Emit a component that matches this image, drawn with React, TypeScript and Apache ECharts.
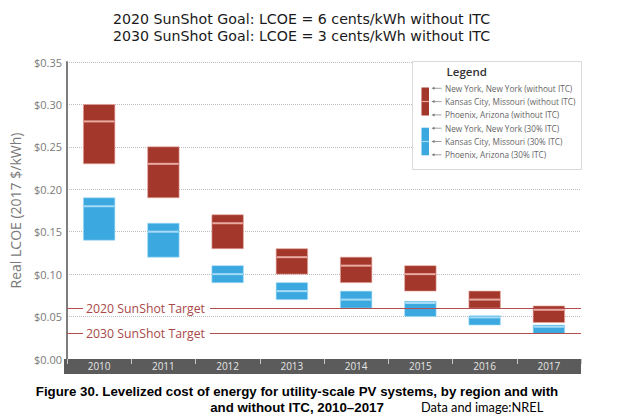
import React, { useEffect, useRef } from "react";
import * as echarts from "echarts";

const categories = ["2010", "2011", "2012", "2013", "2014", "2015", "2016", "2017"];
// Without ITC (red): New York (high), Kansas City (mid), Phoenix (low)
const noItcHigh = [0.30, 0.25, 0.17, 0.13, 0.12, 0.11, 0.08, 0.0625];
const noItcMid = [0.28, 0.23, 0.16, 0.12, 0.11, 0.10, 0.07, 0.058];
const noItcLow = [0.23, 0.19, 0.13, 0.10, 0.09, 0.08, 0.06, 0.043];
// 30% ITC (blue)
const itcHigh = [0.19, 0.16, 0.11, 0.09, 0.08, 0.068, 0.051, 0.040];
const itcMid = [0.18, 0.15, 0.10, 0.08, 0.07, 0.066, 0.049, 0.038];
const itcLow = [0.14, 0.12, 0.09, 0.07, 0.06, 0.05, 0.04, 0.03];

const targetValues = [0.06, 0.03];
const targetLabels = ["2020 SunShot Target", "2030 SunShot Target"];
const yTickLabels = ["$0.00", "$0.05", "$0.10", "$0.15", "$0.20", "$0.25", "$0.30", "$0.35"];
const legendLabels = [
  "New York, New York (without ITC)",
  "Kansas City, Missouri (without ITC)",
  "Phoenix, Arizona (without ITC)",
  "New York, New York (30% ITC)",
  "Kansas City, Missouri (30% ITC)",
  "Phoenix, Arizona (30% ITC)",
];
const titleLines = [
  "2020 SunShot Goal: LCOE = 6 cents/kWh without ITC",
  "2030 SunShot Goal: LCOE = 3 cents/kWh without ITC",
];
const captionLines = [
  "Figure 30. Levelized cost of energy for utility-scale PV systems, by region and with",
  "and without ITC, 2010\u20132017",
];
const sourceText = "Data and image:NREL";

const RED = "#a3372b";
const RED_LIGHT = "#e9aaa1";
const BLUE = "#3ba8e0";
const BLUE_LIGHT = "#a6dbf5";
const FONT = "'Open Sans', sans-serif";

function makeRenderItem(fill: string, light: string) {
  return (params: any, api: any) => {
    const idx = api.value(0);
    const lo = api.value(1);
    const mid = api.value(2);
    const hi = api.value(3);
    const top = api.coord([idx, hi]);
    const bot = api.coord([idx, lo]);
    const m = api.coord([idx, mid]);
    const w = api.size([1, 0])[0] * 0.49;
    const x0 = top[0] - w / 2;
    return {
      type: "group",
      children: [
        {
          type: "rect",
          shape: { x: x0, y: top[1], width: w, height: bot[1] - top[1] },
          style: { fill, stroke: light, lineWidth: 0.6 },
        },
        {
          type: "line",
          shape: { x1: x0 + 0.5, y1: m[1], x2: x0 + w - 0.5, y2: m[1] },
          style: { stroke: light, lineWidth: 2 },
        },
      ],
    };
  };
}

export default function App() {
  const ref = useRef<HTMLDivElement>(null);
  useEffect(() => {
    if (!ref.current) return;
    const chart = echarts.init(ref.current, null, { renderer: "svg" });

    const redData = categories.map((_, i) => [i, noItcLow[i], noItcMid[i], noItcHigh[i]]);
    const blueData = categories.map((_, i) => [i, itcLow[i], itcMid[i], itcHigh[i]]);

    const legendX = 412.5;
    const legendY = 61.5;
    const rowY0 = 88.3;
    const rowStep = 13.3;
    const legendGraphics: any[] = [
      {
        type: "rect",
        z: 100,
        shape: { x: legendX, y: legendY, width: 169, height: 108 },
        style: { fill: "#fff", stroke: "#d9d9d9", lineWidth: 1 },
      },
      {
        type: "text",
        z: 101,
        x: 446.5,
        y: 71.5,
        style: {
          text: "Legend",
          fill: "#333",
          font: `600 11.5px ${FONT}`,
          verticalAlign: "middle",
        },
      },
      {
        type: "rect",
        z: 101,
        shape: { x: 421.5, y: 87.5, width: 7.5, height: 28 },
        style: { fill: RED },
      },
      {
        type: "line",
        z: 102,
        shape: { x1: 421.5, y1: 101.5, x2: 429, y2: 101.5 },
        style: { stroke: RED_LIGHT, lineWidth: 1.2 },
      },
      {
        type: "rect",
        z: 101,
        shape: { x: 421.5, y: 127.7, width: 7.5, height: 27.6 },
        style: { fill: BLUE },
      },
      {
        type: "line",
        z: 102,
        shape: { x1: 421.5, y1: 141.5, x2: 429, y2: 141.5 },
        style: { stroke: BLUE_LIGHT, lineWidth: 1.2 },
      },
    ];
    legendLabels.forEach((lab, i) => {
      const y = rowY0 + i * rowStep;
      legendGraphics.push(
        {
          type: "line",
          z: 101,
          shape: { x1: 434, y1: y, x2: 441.5, y2: y },
          style: { stroke: "#888", lineWidth: 0.8 },
        },
        {
          type: "polygon",
          z: 101,
          shape: { points: [[431.5, y], [434.5, y - 1.5], [434.5, y + 1.5]] },
          style: { fill: "#777" },
        },
        {
          type: "text",
          z: 101,
          x: 445,
          y,
          style: {
            text: lab,
            fill: "#666",
            font: `8.2px ${FONT}`,
            verticalAlign: "middle",
          },
        }
      );
    });

    const titleGraphics = titleLines.map((t, i) => ({
      type: "text",
      z: 100,
      x: 113,
      y: 19 + i * 17,
      style: {
        text: t,
        fill: "#1a1a1a",
        font: "14.2px 'DejaVu Sans', sans-serif",
        textAlign: "left",
        verticalAlign: "middle",
      },
    }));

    const option: any = {
      animation: false,
      backgroundColor: "#fff",
      textStyle: { fontFamily: FONT },
      grid: { left: 64, right: 56, top: 62, bottom: 61, containLabel: false },
      xAxis: {
        type: "category",
        data: categories,
        boundaryGap: true,
        z: 200,
        axisLine: { show: false },
        axisTick: { show: true, length: 5, inside: false, lineStyle: { color: "#c8c8c8", width: 1 } },
        axisLabel: { color: "#e6e6e6", fontSize: 10, fontFamily: FONT, margin: 2 },
        splitLine: { show: false },
      },
      yAxis: {
        type: "value",
        min: 0,
        max: 0.35,
        interval: 0.05,
        name: "Real LCOE (2017 $/kWh)",
        nameLocation: "middle",
        nameRotate: 90,
        nameGap: 45,
        nameTextStyle: { color: "#7a7a7a", fontSize: 14, fontFamily: FONT },
        axisLine: { show: true, lineStyle: { color: "#7d7d7d", width: 2 } },
        axisTick: { show: false },
        axisLabel: {
          color: "#7a7a7a",
          fontSize: 11,
          fontFamily: FONT,
          margin: 5,
          formatter: (v: number) => yTickLabels[Math.round(v / 0.05)] ?? "",
        },
        splitLine: { show: true, lineStyle: { color: "#bdbdbd", type: "dotted", width: 1 } },
      },
      series: [
        {
          type: "custom",
          name: "without ITC",
          renderItem: makeRenderItem(RED, RED_LIGHT),
          encode: { x: 0, y: [1, 2, 3] },
          data: redData,
          z: 3,
          markLine: {
            silent: true,
            symbol: "none",
            lineStyle: { color: "#b24e4e", width: 1, type: "solid" },
            data: targetValues.map((v, i) => ({
              yAxis: v,
              label: {
                show: true,
                formatter: targetLabels[i],
                position: "insideStart",
                distance: [16, 0],
                color: "#a94848",
                fontSize: 12.3,
                fontFamily: FONT,
                backgroundColor: "#fff",
                padding: [1, 5, 1, 3],
              },
            })),
          },
        },
        {
          type: "custom",
          name: "30% ITC",
          renderItem: makeRenderItem(BLUE, BLUE_LIGHT),
          encode: { x: 0, y: [1, 2, 3] },
          data: blueData,
          z: 3,
        },
      ],
      graphic: [
        {
          type: "rect",
          z: 100,
          shape: { x: 64, y: 359, width: 517, height: 15 },
          style: { fill: "#5b5b5b" },
        },
        ...titleGraphics,
        ...legendGraphics,
        {
          type: "text",
          z: 100,
          x: 297,
          y: 391,
          style: {
            text: captionLines[0],
            fill: "#000",
            font: "bold 13.3px 'Liberation Sans', Arial, sans-serif",
            textAlign: "center",
            verticalAlign: "middle",
          },
        },
        {
          type: "text",
          z: 100,
          x: 297,
          y: 407.5,
          style: {
            text: captionLines[1],
            fill: "#000",
            font: "bold 13.3px 'Liberation Sans', Arial, sans-serif",
            textAlign: "center",
            verticalAlign: "middle",
          },
        },
        {
          type: "text",
          z: 100,
          x: 421,
          y: 407,
          style: {
            text: sourceText,
            fill: "#000",
            font: "12.8px Lato, sans-serif",
            textAlign: "left",
            verticalAlign: "middle",
          },
        },
      ],
    };
    chart.setOption(option);
    return () => chart.dispose();
  }, []);

  return (
    <div
      ref={ref}
      style={{ position: "fixed", left: 0, top: 0, width: 637, height: 420, background: "#fff" }}
    />
  );
}
